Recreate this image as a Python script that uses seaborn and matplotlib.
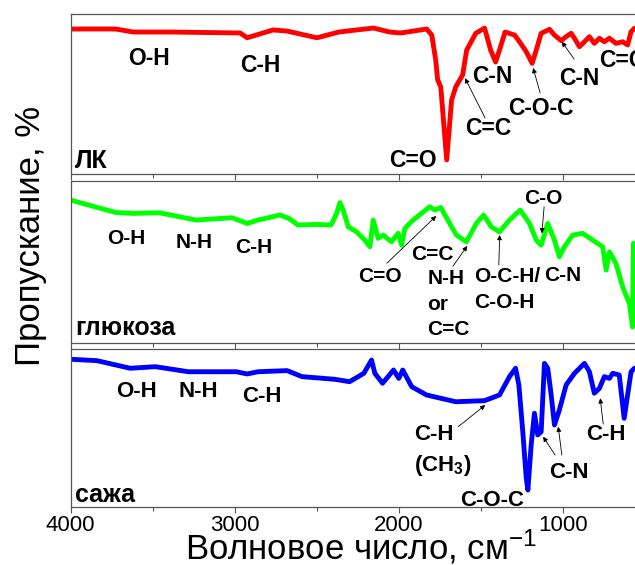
import matplotlib
matplotlib.use("Agg")
import matplotlib.pyplot as plt
from matplotlib.ticker import MultipleLocator, FixedLocator
import pandas as pd
import seaborn as sns

# ---------------- data ----------------
red_wn = [4000, 3727, 3618, 3393, 2967, 2924, 2766, 2681, 2499, 2365, 2155, 2055, 1988,
          1830, 1799, 1775, 1763, 1744, 1708, 1678, 1653, 1611, 1586, 1531, 1477, 1440,
          1410, 1386, 1352, 1294, 1264, 1223, 1187, 1162, 1132, 1081, 1051, 1010, 980,
          949, 929, 899, 868, 838, 808, 777, 747, 716, 676, 635, 605, 584, 564]
red_T = [90.8, 90.8, 88.9, 88.9, 88.3, 85.3, 90.2, 89.5, 85.3, 88.9, 91.4, 88.9, 88.3,
         90.8, 87.0, 71.4, 58.9, 54.5, 8.8, 46.3, 54.5, 62.0, 77.6, 88.1, 91.4, 77.6,
         70.1, 77.6, 88.9, 87.0, 82.8, 76.6, 69.3, 77.6, 88.1, 90.6, 87.0, 83.5, 86.0,
         88.1, 85.0, 79.7, 82.8, 86.0, 81.8, 85.0, 82.8, 85.0, 81.8, 82.8, 80.8, 89.1, 91.2]

green_wn = [4000, 3928, 3727, 3618, 3460, 3237, 3016, 2924, 2858, 2724, 2669, 2614, 2499,
            2413, 2379, 2359, 2339, 2308, 2257, 2207, 2176, 2156, 2126, 2095, 2044, 2004,
            1983, 1963, 1913, 1811, 1781, 1744, 1690, 1649, 1588, 1527, 1483, 1436, 1386,
            1325, 1260, 1203, 1162, 1132, 1092, 1051, 1021, 990, 940, 879, 818, 757, 736,
            716, 676, 635, 594, 575, 570, 564]
green_T = [88.2, 86.2, 80.6, 80.0, 80.4, 75.9, 77.3, 73.8, 75.9, 79.0, 76.9, 72.8, 73.2,
           72.8, 80.0, 86.6, 82.1, 71.7, 68.6, 63.5, 59.4, 75.9, 64.6, 66.6, 62.5, 67.7,
           60.4, 70.7, 75.9, 84.1, 82.1, 83.7, 73.8, 66.6, 62.5, 73.8, 79.0, 71.7, 68.6,
           75.9, 82.1, 73.8, 63.5, 60.4, 73.8, 63.5, 53.2, 59.4, 66.6, 67.7, 63.5, 59.4, 45.0,
           56.3, 49.1, 34.6, 24.4, 9.9, 61.5, 49.3]

blue_wn = [4000, 3839, 3638, 3484, 3283, 2991, 2924, 2858, 2681, 2590, 2389, 2300, 2213,
           2166, 2146, 2099, 2032, 2000, 1976, 1921, 1831, 1653, 1477, 1386, 1325, 1288,
           1268, 1244, 1223, 1213, 1193, 1173, 1153, 1132, 1112, 1092, 1071, 1051, 1021,
           980, 929, 868, 838, 808, 777, 747, 716, 696, 656, 626, 605, 584, 564]
blue_T = [93.7, 92.8, 88.0, 89.0, 85.8, 85.8, 84.4, 85.8, 86.5, 82.7, 81.0, 79.5, 84.8,
          93.2, 84.8, 78.5, 86.9, 81.6, 86.9, 76.3, 71.1, 66.8, 67.5, 71.1, 82.7, 88.0,
          77.4, 47.8, 18.4, 10.9, 39.4, 59.5, 45.8, 47.8, 91.1, 88.0, 71.1, 52.1, 61.6,
          77.4, 84.8, 91.1, 85.8, 72.2, 75.3, 82.7, 81.6, 84.8, 83.7, 56.3, 71.1, 85.8, 88.0]

sample_names = ["ЛК", "глюкоза", "сажа"]
x_ticks = [4000, 3000, 2000, 1000]
x_label = "Волновое число, см$^{-1}$"
y_label = "Пропускание, %"

# ---------------- style ----------------
sns.set_theme(style="ticks")
plt.rcParams["font.family"] = ["Liberation Sans", "DejaVu Sans"]
plt.rcParams["text.color"] = "black"
plt.rcParams["axes.labelcolor"] = "black"
plt.rcParams["mathtext.fontset"] = "custom"
plt.rcParams["mathtext.rm"] = "Liberation Sans"
plt.rcParams["mathtext.bf"] = "Liberation Sans:bold"
plt.rcParams["mathtext.it"] = "Liberation Sans:italic"

W, H = 635, 565
fig = plt.figure(figsize=(W / 100, H / 100), dpi=100)
fig.patch.set_facecolor("white")


def px_axes(top, bottom, left=70.7, right=635):
    return fig.add_axes([left / W, 1 - bottom / H, (right - left) / W, (bottom - top) / H])


ax1 = px_axes(14.3, 174)
ax2 = px_axes(181, 343)
ax3 = px_axes(349.3, 507.3)
axes = [ax1, ax2, ax3]

spectra = [(red_wn, red_T, "#ff0000"), (green_wn, green_T, "#00ff00"), (blue_wn, blue_T, "#0000ff")]
for ax, (wn, tr, col), name in zip(axes, spectra, sample_names):
    df = pd.DataFrame({"wn": wn, "T": tr})
    sns.lineplot(data=df, x="wn", y="T", ax=ax, color=col, lw=3.5, sort=False,
                 estimator=None, legend=False)
    ax.set_xlim(4000, 560)
    ax.set_ylim(0, 100)
    ax.set_facecolor("white")
    ax.set_yticks([])
    ax.set_xlabel("")
    ax.set_ylabel("")
    ax.xaxis.set_major_locator(FixedLocator(x_ticks))
    ax.xaxis.set_minor_locator(MultipleLocator(500))
    ax.tick_params(axis="x", which="major", direction="out", length=4, width=0.8,
                   color="#555555", labelsize=16, pad=1.5, labelcolor="black")
    ax.tick_params(axis="x", which="minor", direction="out", length=3, width=0.8,
                   color="#555555")
    ax.spines["right"].set_visible(False)
    for s in ("left", "top", "bottom"):
        ax.spines[s].set_color("#555555")
        ax.spines[s].set_linewidth(0.9)
    ax.grid(False)

for ax in (ax1, ax2):
    ax.tick_params(axis="x", labelbottom=False)

# panel names
ax1.text(0.008, (174 - 168) / 159.7, sample_names[0], transform=ax1.transAxes,
         fontsize=18, fontweight="bold", ha="left", va="baseline", color="black")
ax2.text(0.008, (343 - 335) / 162, sample_names[1], transform=ax2.transAxes,
         fontsize=18, fontweight="bold", ha="left", va="baseline", color="black")
ax3.text(0.008, (507.3 - 502) / 158, sample_names[2], transform=ax3.transAxes,
         fontsize=18, fontweight="bold", ha="left", va="baseline", color="black")


def lab(ax, x, y, s, size, ha="center"):
    ax.text(x, y, s, fontsize=size, fontweight="bold", ha=ha, va="baseline", color="black")


def arr(ax, tail, head):
    ax.annotate("", xy=head, xytext=tail,
                arrowprops=dict(arrowstyle="-|>", color="black", lw=0.6,
                                mutation_scale=7, shrinkA=0, shrinkB=0))


# panel 1 annotations
s1 = 16.5
lab(ax1, 3523, 68.3, "O-H", s1)
lab(ax1, 2846, 63.9, "C-H", s1)
lab(ax1, 1913, 4.4, "C=O", s1)
lab(ax1, 1431, 57.0, "C-N", s1)
lab(ax1, 1455, 24.4, "C=C", s1)
arr(ax1, (1474, 35.1), (1596, 60.0))
lab(ax1, 1132, 36.9, "C-O-C", s1)
arr(ax1, (1138, 50.7), (1181, 66.4))
lab(ax1, 897, 55.7, "C-N", s1)
arr(ax1, (931, 72.0), (1006, 82.8))
lab(ax1, 778, 67.0, "C=C", s1, ha="left")

# panel 2 annotations
s2 = 15
lab(ax2, 3663, 61.1, "O-H", s2)
lab(ax2, 3248, 58.6, "N-H", s2)
lab(ax2, 2885, 55.6, "C-H", s2)
lab(ax2, 2114, 37.8, "C=O", s2)
arr(ax2, (2073, 49.2), (1772, 78.4))
lab(ax2, 1794, 51.2, "C=C", s2)
lab(ax2, 1827, 36.4, "N-H", s2, ha="left")
lab(ax2, 1827, 20.4, "or", s2, ha="left")
lab(ax2, 1827, 4.9, "C=C", s2, ha="left")
arr(ax2, (1669, 47.5), (1583, 59.9))
lab(ax2, 1541, 37.7, "O-C-H/", s2, ha="left")
lab(ax2, 1541, 21.6, "C-O-H", s2, ha="left")
arr(ax2, (1390, 48.1), (1385, 66.7))
lab(ax2, 998, 38.3, "C-N", s2)
lab(ax2, 1120, 85.8, "C-O", s2)
arr(ax2, (1114, 84.1), (1128, 67.7))

# panel 3 annotations
s3 = 16
lab(ax3, 3599, 70.0, "O-H", s3)
lab(ax3, 3220, 70.0, "N-H", s3)
lab(ax3, 2833, 66.8, "C-H", s3)
lab(ax3, 1907, 42.6, "C-H", s3, ha="left")
lab(ax3, 1907, 23.0, r"(CH$_\mathbf{3}$)", s3, ha="left")
arr(ax3, (1638, 51.0), (1473, 64.7))
lab(ax3, 1431, 1.0, "C-O-C", s3)
lab(ax3, 961, 18.5, "C-N", s3)
arr(ax3, (1047, 33.1), (1120, 44.7))
arr(ax3, (1006, 33.1), (1028, 51.0))
lab(ax3, 736, 42.6, "C-H", s3)
arr(ax3, (754, 52.7), (772, 69.0))

# axis labels
ax3.set_xlabel(x_label, fontsize=25, color="black")
ax3.xaxis.label.set_va("baseline")
ax3.xaxis.set_label_coords(0.515, -0.327)

ax2.set_ylabel(y_label, fontsize=25, color="black")
ax2.yaxis.label.set_va("center")
ax2.yaxis.set_label_coords(-0.0721, 0.66)

fig.savefig("out.png", dpi=100, facecolor="white")
